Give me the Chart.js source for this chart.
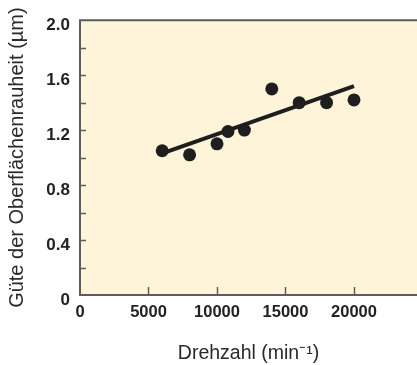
<!DOCTYPE html>
<html>
<head>
<meta charset="utf-8">
<script src="https://cdn.jsdelivr.net/npm/chart.js@4/dist/chart.umd.min.js"></script>
<style>
  html, body { margin: 0; padding: 0; background: #fff; }
  #wrap { width: 417px; height: 365px; }
</style>
</head>
<body>
<div id="wrap"><canvas id="myChart" width="417" height="365"></canvas></div>
<script>
// Messwerte
var rpm = [6000, 8000, 10000, 10800, 12000, 14000, 16000, 18000, 20000];
var roughness = [1.05, 1.02, 1.10, 1.19, 1.20, 1.50, 1.40, 1.40, 1.42];
// Trendlinie
var trendX = [6000, 20000];
var trendY = [1.03, 1.52];
// Achsen
var xTicks = [0, 5000, 10000, 15000, 20000];
var yTicks = [0, 0.4, 0.8, 1.2, 1.6, 2.0];

var ink = '#1e1e1e';
var frame = '#5c5c5c';

function toPoints(xs, ys) {
    var pts = [];
    for (var i = 0; i < xs.length; i++) {
        pts.push({x: xs[i], y: ys[i]});
    }
    return pts;
}

// Hintergrund, Rahmen und innenliegende Teilstriche
var framePlugin = {
    id: 'framePlugin',
    beforeDraw: function(chart) {
        var a = chart.chartArea;
        var ctx = chart.ctx;
        ctx.save();
        ctx.fillStyle = '#fdf4da';
        ctx.fillRect(a.left, a.top, a.right - a.left, a.bottom - a.top);
        ctx.restore();
    },
    afterDraw: function(chart) {
        var a = chart.chartArea;
        var ctx = chart.ctx;
        var xs = chart.scales.x;
        var ys = chart.scales.y;
        ctx.save();
        ctx.strokeStyle = frame;
        ctx.lineWidth = 1.5;
        ctx.beginPath();
        ys.ticks.forEach(function(t) {
            if (t.value <= 0.001 || t.value >= 1.999) return;
            var py = Math.round(ys.getPixelForValue(t.value)) + 0.5;
            ctx.moveTo(a.left, py);
            ctx.lineTo(a.left + 6, py);
        });
        xs.ticks.forEach(function(t) {
            if (t.value === 0) return;
            var px = Math.round(xs.getPixelForValue(t.value)) + 0.5;
            ctx.moveTo(px, a.bottom);
            ctx.lineTo(px, a.bottom - 8);
        });
        ctx.stroke();

        ctx.lineWidth = 2;
        ctx.beginPath();
        ctx.moveTo(a.right, a.top);
        ctx.lineTo(a.left, a.top);
        ctx.lineTo(a.left, a.bottom);
        ctx.lineTo(a.right, a.bottom);
        ctx.stroke();
        ctx.restore();
    }
};

var ctx = document.getElementById('myChart').getContext('2d');
var myChart = new Chart(ctx, {
    type: 'scatter',
    data: {
        datasets: [{
            label: 'Messwerte',
            data: toPoints(rpm, roughness),
            backgroundColor: ink,
            borderColor: ink,
            pointRadius: 6.5,
            pointBorderWidth: 0,
            showLine: false
        }, {
            type: 'line',
            label: 'Trend',
            data: toPoints(trendX, trendY),
            borderColor: ink,
            borderWidth: 4,
            pointRadius: 0,
            fill: false
        }]
    },
    options: {
        responsive: false,
        animation: false,
        layout: { autoPadding: false, padding: { top: 20, right: 0, left: 0, bottom: 0 } },
        plugins: {
            legend: { display: false },
            tooltip: { enabled: false }
        },
        scales: {
            x: {
                type: 'linear',
                min: 0,
                max: 24600,
                grid: { display: false, drawTicks: false },
                border: { display: false },
                afterBuildTicks: function(scale) {
                    scale.ticks = xTicks.map(function(v) { return {value: v}; });
                },
                afterFit: function(scale) { scale.height = 70; },
                ticks: {
                    padding: 8,
                    maxRotation: 0,
                    color: '#222',
                    font: { family: 'Liberation Sans, Arial, sans-serif', size: 16.5, weight: 'bold' },
                    callback: function(v) { return String(v); }
                },
                title: {
                    display: true,
                    text: 'Drehzahl (min\u207B\u00B9)',
                    color: '#2a2a2a',
                    padding: { top: -2, bottom: 0 },
                    font: { family: 'Liberation Sans, Arial, sans-serif', size: 19.5 }
                }
            },
            y: {
                type: 'linear',
                min: 0,
                max: 2.0,
                grid: { display: false, drawTicks: false },
                border: { display: false },
                afterBuildTicks: function(scale) {
                    var t = [];
                    for (var i = 0; i <= 10; i++) t.push({value: i / 5});
                    scale.ticks = t;
                },
                afterFit: function(scale) { scale.width = 80; },
                ticks: {
                    padding: 10,
                    labelOffset: 5,
                    color: '#222',
                    font: { family: 'Liberation Sans, Arial, sans-serif', size: 17, weight: 'bold' },
                    callback: function(v) {
                        for (var i = 0; i < yTicks.length; i++) {
                            if (Math.abs(yTicks[i] - v) < 0.001) {
                                return yTicks[i] === 0 ? '0' : yTicks[i].toFixed(1);
                            }
                        }
                        return '';
                    }
                },
                title: {
                    display: true,
                    text: 'Güte der Oberflächenrauheit (µm)',
                    color: '#2a2a2a',
                    padding: { top: 5, bottom: 0 },
                    font: { family: 'Liberation Sans, Arial, sans-serif', size: 20 }
                }
            }
        }
    },
    plugins: [framePlugin]
});
</script>
</body>
</html>
